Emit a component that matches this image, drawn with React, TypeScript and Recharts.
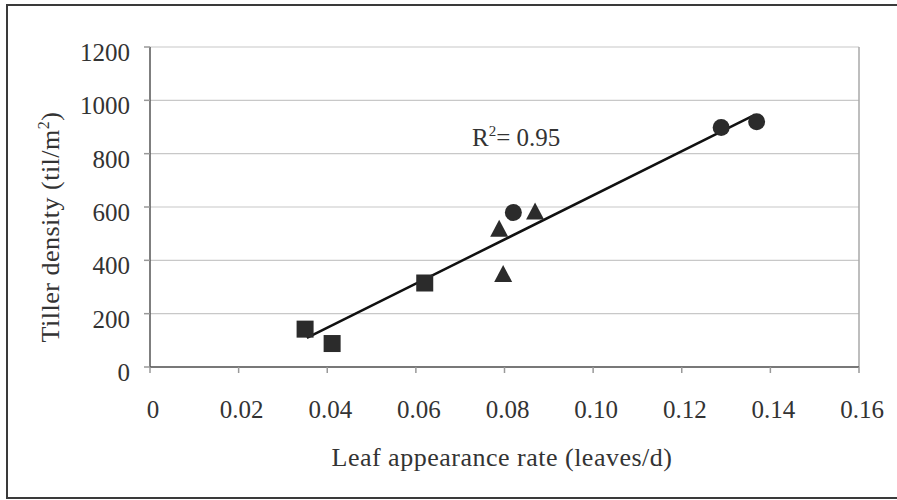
import {
  ScatterChart,
  Scatter,
  XAxis,
  YAxis,
  CartesianGrid,
  ReferenceLine,
} from 'recharts';

const FONT = '"Liberation Serif", "Times New Roman", serif';
const INK = '#2b2b2b';

// leaf appearance rate (leaves/d) vs tiller density (til/m2)
const squareX = [0.035, 0.0411, 0.062];
const squareY = [142, 88, 315];
const triangleX = [0.0788, 0.0797, 0.0869];
const triangleY = [515, 345, 579];
const circleX = [0.082, 0.1289, 0.1369];
const circleY = [579, 898, 920];
// fitted line ends
const trendX = [0.0354, 0.1359];
const trendY = [109, 941];

const xTicks = [0, 0.02, 0.04, 0.06, 0.08, 0.1, 0.12, 0.14, 0.16];
const xTickLabels = ['0', '0.02', '0.04', '0.06', '0.08', '0.10', '0.12', '0.14', '0.16'];
const yTicks = [0, 200, 400, 600, 800, 1000, 1200];

const toPoints = (xs: number[], ys: number[]) => xs.map((x, i) => ({ x, y: ys[i] }));

const SquareMark = (p: any) => (
  <rect x={p.cx - 8.5} y={p.cy - 8.5} width={17} height={17} fill={INK} />
);
const TriangleMark = (p: any) => (
  <polygon
    points={`${p.cx},${p.cy - 10} ${p.cx + 9},${p.cy + 7} ${p.cx - 9},${p.cy + 7}`}
    fill={INK}
  />
);
const CircleMark = (p: any) => <circle cx={p.cx} cy={p.cy} r={8.5} fill={INK} />;

const renderXTick = ({ x, y, payload }: any) => {
  const i = xTicks.indexOf(payload.value);
  return (
    <text
      x={x + 3}
      y={y + 43}
      textAnchor="middle"
      fontSize={25}
      fill="#333"
      style={{ fontFamily: FONT }}
    >
      {xTickLabels[i] ?? String(payload.value)}
    </text>
  );
};

const renderYTick = ({ x, y, payload }: any) => (
  <text
    x={x - 12}
    y={y + 14}
    textAnchor="end"
    fontSize={25}
    fill="#333"
    style={{ fontFamily: FONT }}
  >
    {String(payload.value)}
  </text>
);

export default function App() {
  return (
    <div
      style={{
        position: 'fixed',
        left: 0,
        top: 0,
        width: 897,
        height: 500,
        overflow: 'hidden',
        background: '#fff',
        fontFamily: FONT,
      }}
    >
      <div
        style={{
          position: 'absolute',
          left: 6,
          top: 4,
          width: 940,
          height: 495,
          border: '2px solid #3a3a3a',
          boxSizing: 'border-box',
        }}
      />
      <div style={{ position: 'absolute', left: 0, top: 0 }}>
        <ScatterChart
          width={897}
          height={500}
          margin={{ top: 47, right: 38, left: 90, bottom: 93 }}
          style={{ fontFamily: FONT }}
        >
          <CartesianGrid horizontal vertical={false} stroke="#c8c8c8" strokeWidth={1.2} />
          <XAxis
            type="number"
            dataKey="x"
            domain={[0, 0.16]}
            ticks={xTicks}
            height={40}
            stroke="#555"
            strokeWidth={1.5}
            tickSize={6}
            tickLine={{ stroke: '#999' }}
            tick={renderXTick}
            interval={0}
          />
          <YAxis
            type="number"
            dataKey="y"
            domain={[0, 1200]}
            ticks={yTicks}
            width={60}
            stroke="#555"
            strokeWidth={1.5}
            tickSize={6}
            tickLine={{ stroke: '#999' }}
            tick={renderYTick}
            interval={0}
          />
          <ReferenceLine x={0.16} stroke="#a8a8a8" strokeWidth={1.5} />
          <Scatter
            data={toPoints(trendX, trendY)}
            line={{ stroke: '#111', strokeWidth: 2.5 }}
            shape={() => <g />}
            isAnimationActive={false}
          />
          <Scatter data={toPoints(squareX, squareY)} shape={SquareMark} isAnimationActive={false} />
          <Scatter data={toPoints(triangleX, triangleY)} shape={TriangleMark} isAnimationActive={false} />
          <Scatter data={toPoints(circleX, circleY)} shape={CircleMark} isAnimationActive={false} />
        </ScatterChart>
      </div>
      <svg
        width={897}
        height={500}
        style={{ position: 'absolute', left: 0, top: 0, pointerEvents: 'none', fontFamily: FONT }}
        fill="#333"
      >
        <text x={472} y={146} fontSize={25}>
          R<tspan dy={-10} fontSize={15}>2</tspan>
          <tspan dy={10}>= 0.95</tspan>
        </text>
        <text x={502} y={466} fontSize={26} letterSpacing={0.5} textAnchor="middle">
          Leaf appearance rate (leaves/d)
        </text>
        <text
          x={59}
          y={227}
          fontSize={26}
          letterSpacing={0.5}
          textAnchor="middle"
          transform="rotate(-90 59 227)"
        >
          Tiller density (til/m<tspan dy={-10} fontSize={16}>2</tspan>
          <tspan dy={10}>)</tspan>
        </text>
      </svg>
    </div>
  );
}
